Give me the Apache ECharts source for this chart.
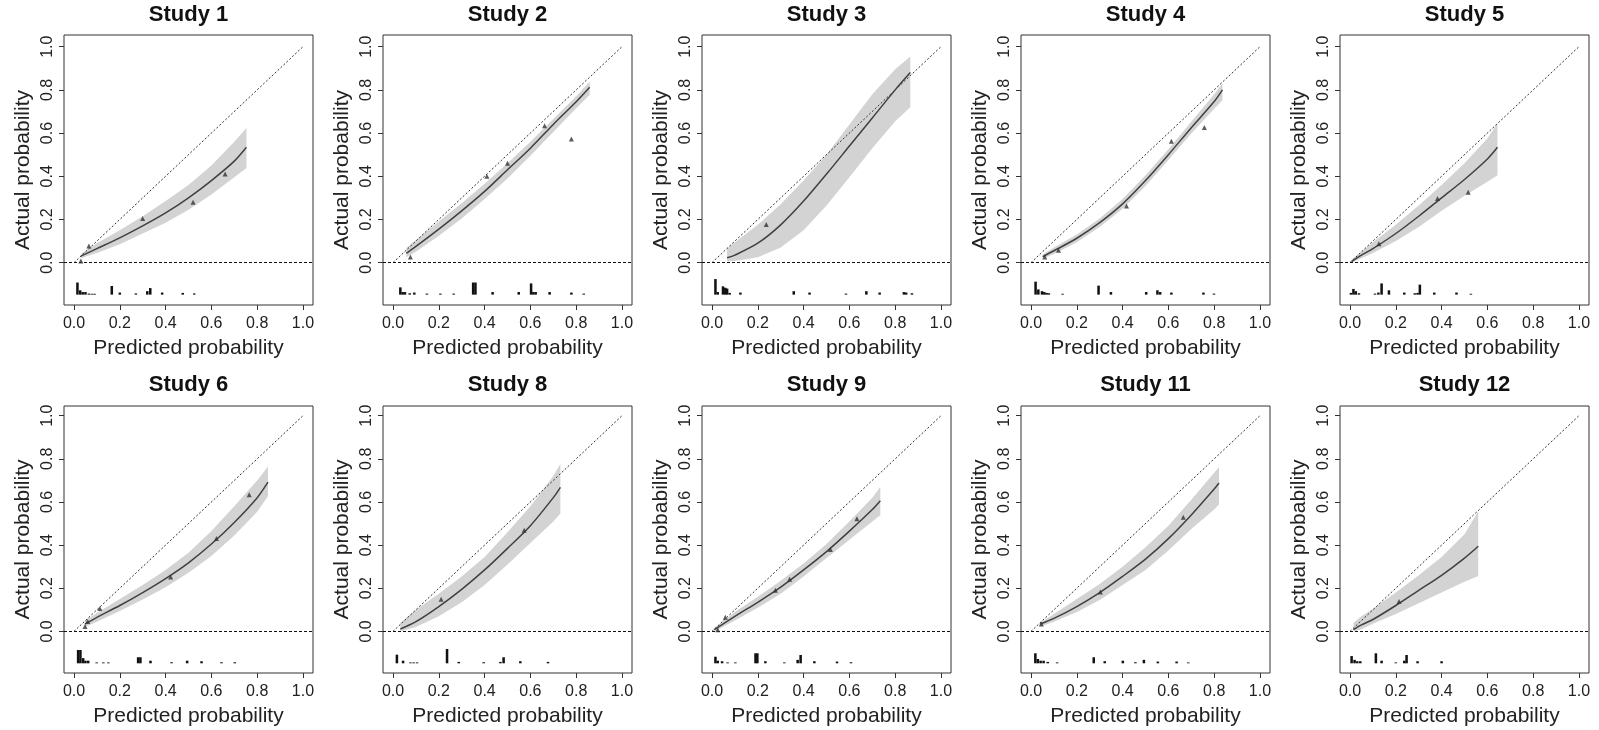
<!DOCTYPE html>
<html><head><meta charset="utf-8">
<script src="https://cdn.jsdelivr.net/npm/echarts@6/dist/echarts.min.js"></script>
<style>html,body{margin:0;padding:0;background:#fff}#c{width:1599px;height:730px}</style>
</head><body><div id="c"></div>
<script>
const panelTitles = ['Study 1','Study 2','Study 3','Study 4','Study 5','Study 6','Study 8','Study 9','Study 11','Study 12'];
const tickValues = [0, 0.2, 0.4, 0.6, 0.8, 1.0];

// x positions where fitted curve and band were read
const fitX = [
  [0.03,0.1,0.2,0.3,0.4,0.5,0.6,0.7,0.753],
  [0.058,0.1,0.2,0.3,0.4,0.5,0.6,0.7,0.8,0.859],
  [0.066,0.1,0.2,0.3,0.4,0.5,0.6,0.7,0.8,0.866],
  [0.051,0.1,0.2,0.3,0.4,0.5,0.6,0.7,0.8,0.836],
  [0.007,0.05,0.1,0.2,0.3,0.4,0.5,0.6,0.644],
  [0.048,0.1,0.2,0.3,0.4,0.5,0.6,0.7,0.8,0.847],
  [0.032,0.1,0.2,0.3,0.4,0.5,0.6,0.7,0.731],
  [0.01,0.1,0.2,0.3,0.4,0.5,0.6,0.7,0.735],
  [0.041,0.1,0.2,0.3,0.4,0.5,0.6,0.7,0.8,0.821],
  [0.015,0.05,0.1,0.2,0.3,0.4,0.5,0.56]
];
const fitY = [
  [0.03,0.065,0.115,0.17,0.23,0.30,0.38,0.47,0.534],
  [0.043,0.075,0.155,0.24,0.33,0.43,0.53,0.64,0.745,0.812],
  [0.023,0.035,0.09,0.175,0.285,0.41,0.54,0.67,0.80,0.88],
  [0.028,0.055,0.113,0.185,0.272,0.38,0.50,0.625,0.746,0.80],
  [0.005,0.035,0.065,0.135,0.215,0.30,0.385,0.48,0.534],
  [0.034,0.065,0.12,0.18,0.245,0.318,0.405,0.505,0.62,0.692],
  [0.011,0.045,0.115,0.195,0.285,0.385,0.49,0.62,0.668],
  [0.008,0.07,0.135,0.205,0.285,0.37,0.465,0.565,0.606],
  [0.034,0.06,0.115,0.18,0.255,0.335,0.43,0.54,0.66,0.688],
  [0.008,0.03,0.055,0.12,0.19,0.26,0.34,0.395]
];
const bandHi = [
  [0.04,0.09,0.15,0.215,0.285,0.36,0.45,0.56,0.623],
  [0.068,0.105,0.19,0.275,0.365,0.46,0.56,0.665,0.77,0.838],
  [0.065,0.095,0.175,0.27,0.38,0.50,0.64,0.78,0.895,0.955],
  [0.038,0.07,0.13,0.205,0.295,0.405,0.525,0.652,0.78,0.83],
  [0.015,0.05,0.095,0.175,0.265,0.36,0.46,0.575,0.646],
  [0.05,0.085,0.15,0.215,0.285,0.365,0.465,0.58,0.70,0.765],
  [0.04,0.1,0.175,0.255,0.345,0.46,0.58,0.72,0.777],
  [0.015,0.09,0.16,0.235,0.315,0.405,0.51,0.62,0.669],
  [0.04,0.08,0.15,0.22,0.30,0.39,0.49,0.61,0.735,0.762],
  [0.04,0.07,0.105,0.18,0.26,0.345,0.45,0.557]
];
const bandLo = [
  [0.02,0.045,0.085,0.135,0.185,0.245,0.315,0.395,0.438],
  [0.025,0.05,0.125,0.205,0.295,0.39,0.495,0.605,0.715,0.777],
  [0.005,0.008,0.025,0.07,0.15,0.265,0.395,0.53,0.655,0.72],
  [0.018,0.04,0.095,0.165,0.25,0.355,0.475,0.598,0.712,0.752],
  [0.0,0.02,0.045,0.10,0.165,0.24,0.31,0.375,0.405],
  [0.02,0.045,0.095,0.148,0.205,0.272,0.35,0.445,0.555,0.626],
  [0.0,0.02,0.07,0.135,0.215,0.31,0.41,0.51,0.546],
  [0.0,0.05,0.11,0.175,0.255,0.34,0.425,0.51,0.538],
  [0.022,0.045,0.09,0.145,0.215,0.285,0.375,0.475,0.565,0.588],
  [0.0,0.01,0.035,0.08,0.13,0.18,0.23,0.257]
];
// observed grouped proportions (triangles)
const obsPoints = [
  [[0.03,0.008],[0.065,0.077],[0.30,0.205],[0.52,0.28],[0.66,0.41]],
  [[0.076,0.026],[0.41,0.40],[0.50,0.46],[0.662,0.634],[0.779,0.572]],
  [[0.237,0.177]],
  [[0.06,0.026],[0.12,0.058],[0.417,0.262],[0.613,0.562],[0.757,0.626]],
  [[0.126,0.088],[0.382,0.297],[0.516,0.326]],
  [[0.048,0.023],[0.06,0.046],[0.113,0.106],[0.422,0.252],[0.622,0.431],[0.765,0.634]],
  [[0.21,0.149],[0.573,0.469]],
  [[0.025,0.008],[0.058,0.065],[0.277,0.191],[0.339,0.242],[0.517,0.38],[0.633,0.522]],
  [[0.045,0.034],[0.303,0.183],[0.665,0.529]],
  [[0.214,0.138]]
];
// distribution of predicted risk: [predicted probability, relative frequency]
const riskHist = [
  [[0.015,0.7],[0.027,0.25],[0.038,0.15],[0.05,0.15],[0.065,0.06],[0.078,0.05],[0.09,0.05],[0.165,0.5],[0.2,0.12],[0.27,0.07],[0.32,0.2],[0.333,0.38],[0.385,0.12],[0.475,0.1],[0.525,0.07]],
  [[0.032,0.42],[0.042,0.15],[0.052,0.15],[0.073,0.08],[0.093,0.12],[0.148,0.06],[0.207,0.06],[0.265,0.06],[0.35,0.7],[0.36,0.7],[0.435,0.15],[0.549,0.15],[0.603,0.65],[0.613,0.15],[0.623,0.15],[0.684,0.15],[0.779,0.12],[0.833,0.06]],
  [[0.015,0.9],[0.025,0.15],[0.048,0.48],[0.058,0.4],[0.066,0.35],[0.077,0.1],[0.124,0.12],[0.357,0.2],[0.426,0.12],[0.585,0.06],[0.674,0.2],[0.732,0.12],[0.838,0.15],[0.848,0.12],[0.873,0.08]],
  [[0.02,0.75],[0.032,0.3],[0.048,0.2],[0.058,0.15],[0.068,0.1],[0.078,0.08],[0.138,0.05],[0.295,0.52],[0.349,0.15],[0.503,0.15],[0.552,0.25],[0.564,0.15],[0.613,0.12],[0.753,0.12],[0.799,0.06]],
  [[0.004,0.1],[0.015,0.33],[0.025,0.2],[0.039,0.08],[0.109,0.06],[0.124,0.12],[0.138,0.65],[0.17,0.25],[0.237,0.12],[0.283,0.08],[0.295,0.1],[0.305,0.58],[0.368,0.12],[0.465,0.12],[0.528,0.05]],
  [[0.018,0.77],[0.028,0.77],[0.04,0.3],[0.05,0.15],[0.062,0.15],[0.099,0.05],[0.128,0.05],[0.15,0.05],[0.28,0.35],[0.29,0.35],[0.334,0.15],[0.426,0.06],[0.494,0.15],[0.557,0.12],[0.644,0.06],[0.702,0.06]],
  [[0.017,0.5],[0.044,0.15],[0.076,0.05],[0.09,0.05],[0.105,0.05],[0.236,0.83],[0.287,0.08],[0.396,0.06],[0.469,0.08],[0.483,0.35],[0.556,0.12],[0.677,0.08]],
  [[0.015,0.38],[0.025,0.15],[0.044,0.12],[0.068,0.05],[0.102,0.05],[0.19,0.58],[0.198,0.58],[0.233,0.12],[0.316,0.05],[0.374,0.2],[0.387,0.48],[0.447,0.12],[0.546,0.1],[0.607,0.06]],
  [[0.019,0.58],[0.03,0.25],[0.042,0.15],[0.055,0.15],[0.073,0.08],[0.114,0.05],[0.274,0.35],[0.322,0.12],[0.401,0.15],[0.456,0.06],[0.493,0.2],[0.554,0.1],[0.636,0.1],[0.687,0.05]],
  [[0.007,0.42],[0.02,0.2],[0.032,0.12],[0.045,0.12],[0.113,0.58],[0.138,0.15],[0.2,0.05],[0.237,0.15],[0.247,0.48],[0.295,0.12],[0.4,0.12]]
];

const FONT = '"Liberation Sans", Arial, Helvetica, sans-serif';
const colLeft = [64, 383, 702, 1021, 1340];
const rowTop = [35, 406];
const rowH = [270, 267];
const boxW = 249;
const yLim = [[-0.196, 1.054], [-0.193, 1.045]];
const xLim = [-0.0437, 1.0437];
const HIST_BASE = -0.148, HIST_UNIT = 0.08, BIN_W = 0.011;

const grids = [], xAxes = [], yAxes = [], titles = [], series = [];
panelTitles.forEach((t, i) => {
  const r = i < 5 ? 0 : 1, c = i % 5;
  grids.push({left: colLeft[c], top: rowTop[r], width: boxW, height: rowH[r], show: true,
    borderColor: '#333', borderWidth: 1, backgroundColor: 'transparent'});
  titles.push({text: t, left: colLeft[c] + boxW / 2, top: r ? 374 : 4, textAlign: 'center', padding: 0,
    textStyle: {fontSize: 22, fontWeight: 'bold', color: '#111', fontFamily: FONT}});
  xAxes.push({gridIndex: i, type: 'value', min: xLim[0], max: xLim[1],
    splitLine: {show: false}, axisLine: {show: false, onZero: false},
    axisTick: {show: true, length: 5, lineStyle: {color: '#333'}, customValues: tickValues},
    axisLabel: {customValues: tickValues, formatter: v => v.toFixed(1), fontSize: 16, color: '#222', margin: 11, fontFamily: FONT},
    name: 'Predicted probability', nameLocation: 'middle', nameGap: 33,
    nameTextStyle: {fontSize: 21, color: '#222', fontFamily: FONT}});
  yAxes.push({gridIndex: i, type: 'value', min: yLim[r][0], max: yLim[r][1],
    splitLine: {show: false}, axisLine: {show: false, onZero: false},
    axisTick: {show: true, length: 5, lineStyle: {color: '#333'}, customValues: tickValues},
    axisLabel: {customValues: tickValues, formatter: v => v.toFixed(1), fontSize: 16, color: '#222', margin: 8, rotate: 90, fontFamily: FONT},
    name: 'Actual probability', nameLocation: 'middle', nameGap: 30,
    nameTextStyle: {fontSize: 21, color: '#222', fontFamily: FONT}});

  const xs = fitX[i], hi = bandHi[i], lo = bandLo[i];
  // confidence band polygon
  series.push({type: 'custom', xAxisIndex: i, yAxisIndex: i, z: 1, data: [[xs[0], lo[0]]],
    renderItem: (params, api) => {
      const top = xs.map((x, j) => api.coord([x, hi[j]]));
      const bot = xs.map((x, j) => api.coord([x, lo[j]])).reverse();
      return {type: 'polygon', shape: {points: top.concat(bot)}, style: {fill: '#d3d3d3'}};
    }});
  // ideal diagonal + zero reference line
  series.push({type: 'line', xAxisIndex: i, yAxisIndex: i, symbol: 'none', z: 3,
    lineStyle: {color: '#333', width: 1, type: [2, 2]}, data: [[0, 0], [1, 1]],
    markLine: {silent: true, symbol: 'none', label: {show: false},
      lineStyle: {color: '#111', width: 1, type: [3, 2]}, data: [{yAxis: 0}]}});
  // fitted calibration curve
  series.push({type: 'line', xAxisIndex: i, yAxisIndex: i, symbol: 'none', smooth: 0.3, z: 4,
    lineStyle: {color: '#404040', width: 1.5}, data: xs.map((x, j) => [x, fitY[i][j]])});
  // observed points
  series.push({type: 'scatter', xAxisIndex: i, yAxisIndex: i, symbol: 'triangle', symbolSize: 5, z: 5,
    itemStyle: {color: '#333'}, data: obsPoints[i]});
  // risk distribution spikes
  series.push({type: 'custom', xAxisIndex: i, yAxisIndex: i, z: 5, data: riskHist[i],
    renderItem: (params, api) => {
      const x = api.value(0), h = api.value(1) * HIST_UNIT;
      const p0 = api.coord([x - BIN_W / 2, HIST_BASE]);
      const p1 = api.coord([x + BIN_W / 2, HIST_BASE + h]);
      return {type: 'rect', shape: {x: p0[0], y: p1[1], width: p1[0] - p0[0], height: p0[1] - p1[1]},
        style: {fill: '#111'}};
    }});
});

const chart = echarts.init(document.getElementById('c'));
chart.setOption({animation: false, backgroundColor: '#fff', title: titles, grid: grids,
  xAxis: xAxes, yAxis: yAxes, series: series});
</script></body></html>
